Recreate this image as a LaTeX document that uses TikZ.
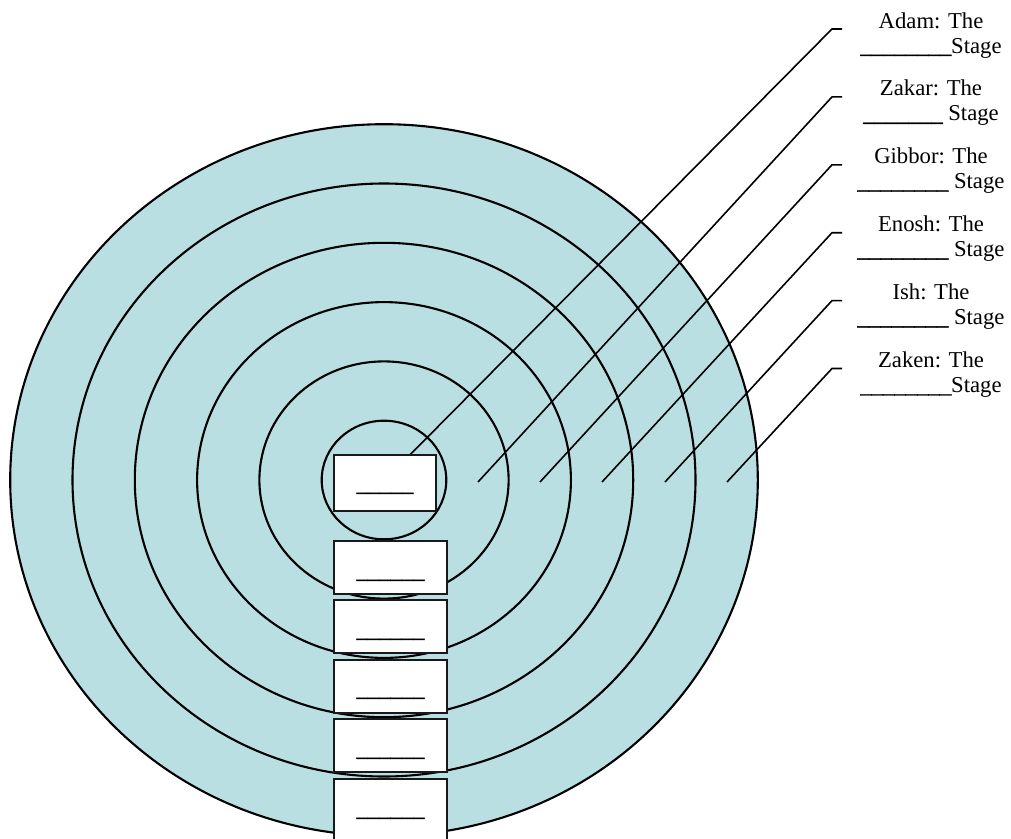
\documentclass[tikz,border=0pt]{standalone}
\usepackage{fontspec}
\setmainfont{Liberation Serif}
\newfontfamily\ulfont[FakeBold=1.6]{Liberation Serif}
\newcommand\uline[1]{{\ulfont #1}}
\definecolor{ringfill}{RGB}{186,223,227}
\begin{document}
\begin{tikzpicture}[x=1pt,y=-1pt,
  ring/.style={draw=black,line width=2.1pt,fill=ringfill},
  leader/.style={draw=black,line width=1.6pt},
  blankbox/.style={draw=black!90,line width=2pt,fill=white,inner sep=0pt,minimum width=113pt,minimum height=52.5pt},
  lbl/.style={font=\fontsize{22.7}{25}\selectfont,anchor=base,inner sep=0pt}]
\useasboundingbox (0,0) rectangle (1011,838);
\clip (0,0) rectangle (1011,838);
% rings
\draw[ring] (384,480) ellipse [x radius=373.8pt, y radius=355.8pt];
\draw[ring] (384,480) ellipse [x radius=311.5pt, y radius=296.5pt];
\draw[ring] (384,480) ellipse [x radius=249.2pt, y radius=237.2pt];
\draw[ring] (384,480) ellipse [x radius=186.9pt, y radius=177.9pt];
\draw[ring] (384,480) ellipse [x radius=124.6pt, y radius=118.6pt];
\draw[ring] (384,480) ellipse [x radius=62.3pt, y radius=59.3pt];
% labels
\node[lbl] (adamA)   at (931,28)    {Adam: The};
\node[lbl] (adamB)   at (931,53)    {\uline{\_\_\_\_\_\_\_\_}Stage};
\node[lbl] (zakarA)  at (931,95.9)  {Zakar: The};
\node[lbl] (zakarB)  at (931,120.9) {\uline{\_\_\_\_\_\_\_} Stage};
\node[lbl] (gibborA) at (931,163.8) {Gibbor: The};
\node[lbl] (gibborB) at (931,188.8) {\uline{\_\_\_\_\_\_\_\_} Stage};
\node[lbl] (enoshA)  at (931,231.7) {Enosh: The};
\node[lbl] (enoshB)  at (931,256.7) {\uline{\_\_\_\_\_\_\_\_} Stage};
\node[lbl] (ishA)    at (931,299.6) {Ish: The};
\node[lbl] (ishB)    at (931,324.6) {\uline{\_\_\_\_\_\_\_\_} Stage};
\node[lbl] (zakenA)  at (931,367.5) {Zaken: The};
\node[lbl] (zakenB)  at (931,392.5) {\uline{\_\_\_\_\_\_\_\_}Stage};
% leader coordinates
\coordinate (s1) at (842,29);    \coordinate (c1) at (832,29);    \coordinate (e1) at (395,470);
\coordinate (s2) at (842,96.9);  \coordinate (c2) at (832,96.9);  \coordinate (e2) at (478,482);
\coordinate (s3) at (842,164.8); \coordinate (c3) at (832,164.8); \coordinate (e3) at (540,482);
\coordinate (s4) at (842,232.7); \coordinate (c4) at (832,232.7); \coordinate (e4) at (602,482);
\coordinate (s5) at (842,300.6); \coordinate (c5) at (832,300.6); \coordinate (e5) at (665,482);
\coordinate (s6) at (842,368.5); \coordinate (c6) at (832,368.5); \coordinate (e6) at (727,482);
\draw[leader] (s1) -- (c1) -- (e1);
\draw[leader] (s2) -- (c2) -- (e2);
\draw[leader] (s3) -- (c3) -- (e3);
\draw[leader] (s4) -- (c4) -- (e4);
\draw[leader] (s5) -- (c5) -- (e5);
\draw[leader] (s6) -- (c6) -- (e6);
% boxes
\node[blankbox,minimum width=102pt,minimum height=56pt] (b1) at (385,483) {};
\node[blankbox] (b2) at (390.5,567.25) {};
\node[blankbox] (b3) at (390.5,626.25) {};
\node[blankbox] (b4) at (390.5,686.25) {};
\node[blankbox] (b5) at (390.5,745.25) {};
\node[blankbox,minimum height=62pt] (b6) at (390.5,810) {};
\node[lbl] (u1) at (385,491) {\uline{\_\_\_\_\_}};
\node[lbl] (u2) at (390.5,578) {\uline{\_\_\_\_\_\_}};
\node[lbl] (u3) at (390.5,637) {\uline{\_\_\_\_\_\_}};
\node[lbl] (u4) at (390.5,696) {\uline{\_\_\_\_\_\_}};
\node[lbl] (u5) at (390.5,756) {\uline{\_\_\_\_\_\_}};
\node[lbl] (u6) at (390.5,816) {\uline{\_\_\_\_\_\_}};
\end{tikzpicture}
\end{document}
